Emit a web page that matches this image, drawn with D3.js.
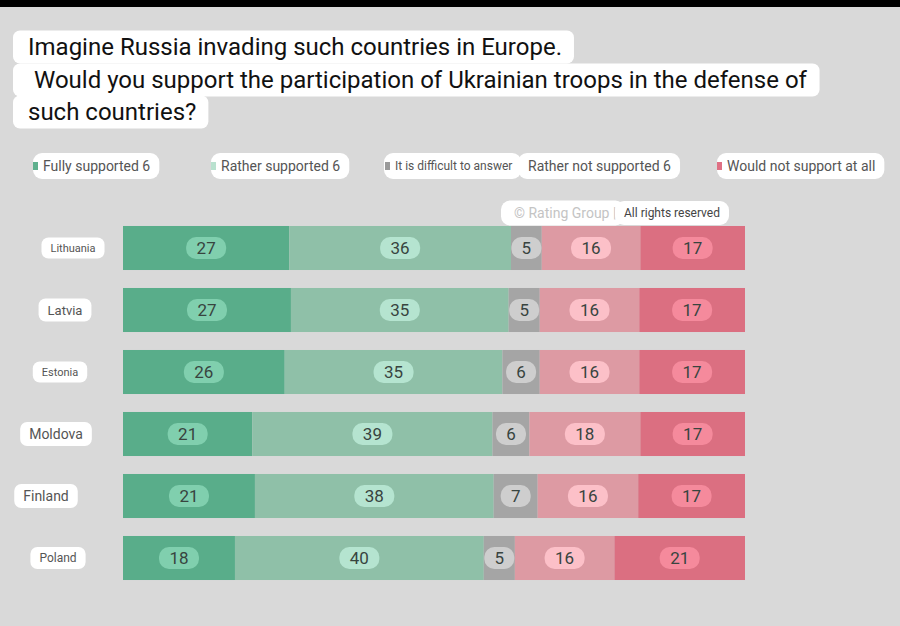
<!DOCTYPE html>
<meta charset="utf-8">
<title>Ukrainian troops defending European countries</title>
<script src="https://cdn.jsdelivr.net/npm/d3@7"></script>
<body style="margin:0; background:#d9d9d9; font-family: Roboto, sans-serif;">
<div id="chart"></div>
</body>
<script>
// survey values, % (rows don't always add to exactly 100)
const countries = ["Lithuania", "Latvia", "Estonia", "Moldova", "Finland", "Poland"]
const fully     = [27, 27, 26, 21, 21, 18]
const rather    = [36, 35, 35, 39, 38, 40]
const difficult = [5, 5, 6, 6, 7, 5]
const ratherNot = [16, 16, 16, 18, 16, 16]
const notAtAll  = [17, 17, 17, 17, 17, 21]

const legendLabels = ["Fully supported 6", "Rather supported 6", "It is difficult to answer",
                      "Rather not supported 6", "Would not support at all"]
const titleLines = ["Imagine Russia invading such countries in Europe.",
                    " Would you support the participation of Ukrainian troops in the defense of",
                    "such countries?"]

const barColors  = ["#59ad8a", "#8fc0a8", "#a5a5a5", "#dd9aa3", "#db6f81"]
const pillColors = ["#80cfae", "#b5e4d0", "#cecece", "#fcc0c8", "#f58a9c"]
const swatchColors = ["#5fb08e", "#b9e1cf", "#9a9a9a", null, "#df7084"]

// label placement looks hand made in the original, so keep it here
const countryStyle = {
  Lithuania: {cx: 73, size: 11},
  Latvia:    {cx: 65, size: 13},
  Estonia:   {cx: 60, size: 11},
  Moldova:   {cx: 56, size: 14},
  Finland:   {cx: 46, size: 14},
  Poland:    {cx: 58, size: 12}
}

const width = 900, height = 626

const svg = d3.select("#chart").append("svg")
    .attr("width", width).attr("height", height)
    .style("display", "block")

svg.append("rect").attr("width", width).attr("height", height).attr("fill", "#d9d9d9")
svg.append("rect").attr("width", width).attr("height", 7).attr("fill", "#000")

// helper: text with a white rounded pill behind it
function pill(g, x, y, txt, opts) {
  const grp = g.append("g")
  const bg = grp.append("rect")
  const t = grp.append("text")
      .attr("x", x).attr("y", y).attr("dy", "0.35em")
      .attr("font-size", opts.size)
      .attr("fill", opts.color || "#222")
      .attr("text-anchor", opts.anchor || "start")
      .style("white-space", "pre")
      .text(txt)
  if (opts.fit) t.attr("textLength", opts.fit).attr("lengthAdjust", "spacingAndGlyphs")
  const b = t.node().getBBox()
  const padL = opts.padL ?? 8, padR = opts.padR ?? 8, h = opts.h
  bg.attr("x", b.x - padL).attr("y", y - h / 2)
    .attr("width", b.width + padL + padR).attr("height", h)
    .attr("rx", opts.rx ?? h / 2).attr("fill", opts.fill || "#fff")
  return grp
}

// title
const title = svg.append("g")
const titleY = [47, 80, 112]
titleLines.forEach((line, i) => {
  pill(title, 28, titleY[i], line, {size: 24, color: "#111", h: 33, rx: 7, padL: 15, padR: 12})
})

// legend
const legendX = [43, 221, 395, 528, 727]
const legend = svg.append("g")
legendLabels.forEach((lab, i) => {
  const small = i === 2
  pill(legend, legendX[i], 166, lab, {size: small ? 12 : 14, color: "#555", h: 26, rx: 9,
       padL: small ? 11 : 10, padR: 9})
  if (swatchColors[i]) {
    legend.append("rect").attr("x", legendX[i] - 10).attr("y", 162)
      .attr("width", 5).attr("height", 8).attr("fill", swatchColors[i])
  }
})

// watermark
pill(svg, 514, 213, "© Rating Group |", {size: 14, color: "#c4c4c4", h: 25, rx: 9, padL: 13, padR: 8})
pill(svg, 624, 213, "All rights reserved", {size: 12, color: "#444", h: 24, rx: 9, padL: 9, padR: 9})

// bars
const x0 = 123, x1 = 745
const y = d3.scaleBand().domain(countries).range([217, 589]).paddingInner(0.29).paddingOuter(0.145)

const rows = countries.map((c, i) => {
  const vals = [fully[i], rather[i], difficult[i], ratherNot[i], notAtAll[i]]
  const x = d3.scaleLinear().domain([0, d3.sum(vals)]).range([x0, x1])
  let acc = 0
  const segs = vals.map((v, k) => {
    const s = {country: c, k, v, a: x(acc), b: x(acc + v)}
    acc += v
    return s
  })
  return {country: c, segs}
})

const row = svg.append("g").selectAll("g")
  .data(rows)
  .join("g")
    .attr("transform", d => `translate(0,${y(d.country)})`)

row.selectAll("rect.seg")
  .data(d => d.segs)
  .join("rect")
    .attr("class", "seg")
    .attr("x", d => d.a)
    .attr("width", d => d.b - d.a)
    .attr("height", y.bandwidth())
    .attr("fill", d => barColors[d.k])

row.each(function(d) {
  const g = d3.select(this)
  const cy = y.bandwidth() / 2
  d.segs.forEach(s => {
    const cx = (s.a + s.b) / 2
    const w = s.v < 10 ? 30 : 40
    g.append("rect").attr("x", cx - w / 2).attr("y", cy - 11)
      .attr("width", w).attr("height", 22).attr("rx", 10)
      .attr("fill", pillColors[s.k])
    g.append("text").attr("x", cx).attr("y", cy).attr("dy", "0.36em")
      .attr("text-anchor", "middle").attr("font-size", 17)
      .attr("fill", "#38443f")
      .text(s.v)
  })
  const st = countryStyle[d.country]
  pill(g, st.cx, cy, d.country, {size: st.size, color: "#555", anchor: "middle",
       h: st.size + 10, rx: 7, padL: 9, padR: 9})
})
</script>
